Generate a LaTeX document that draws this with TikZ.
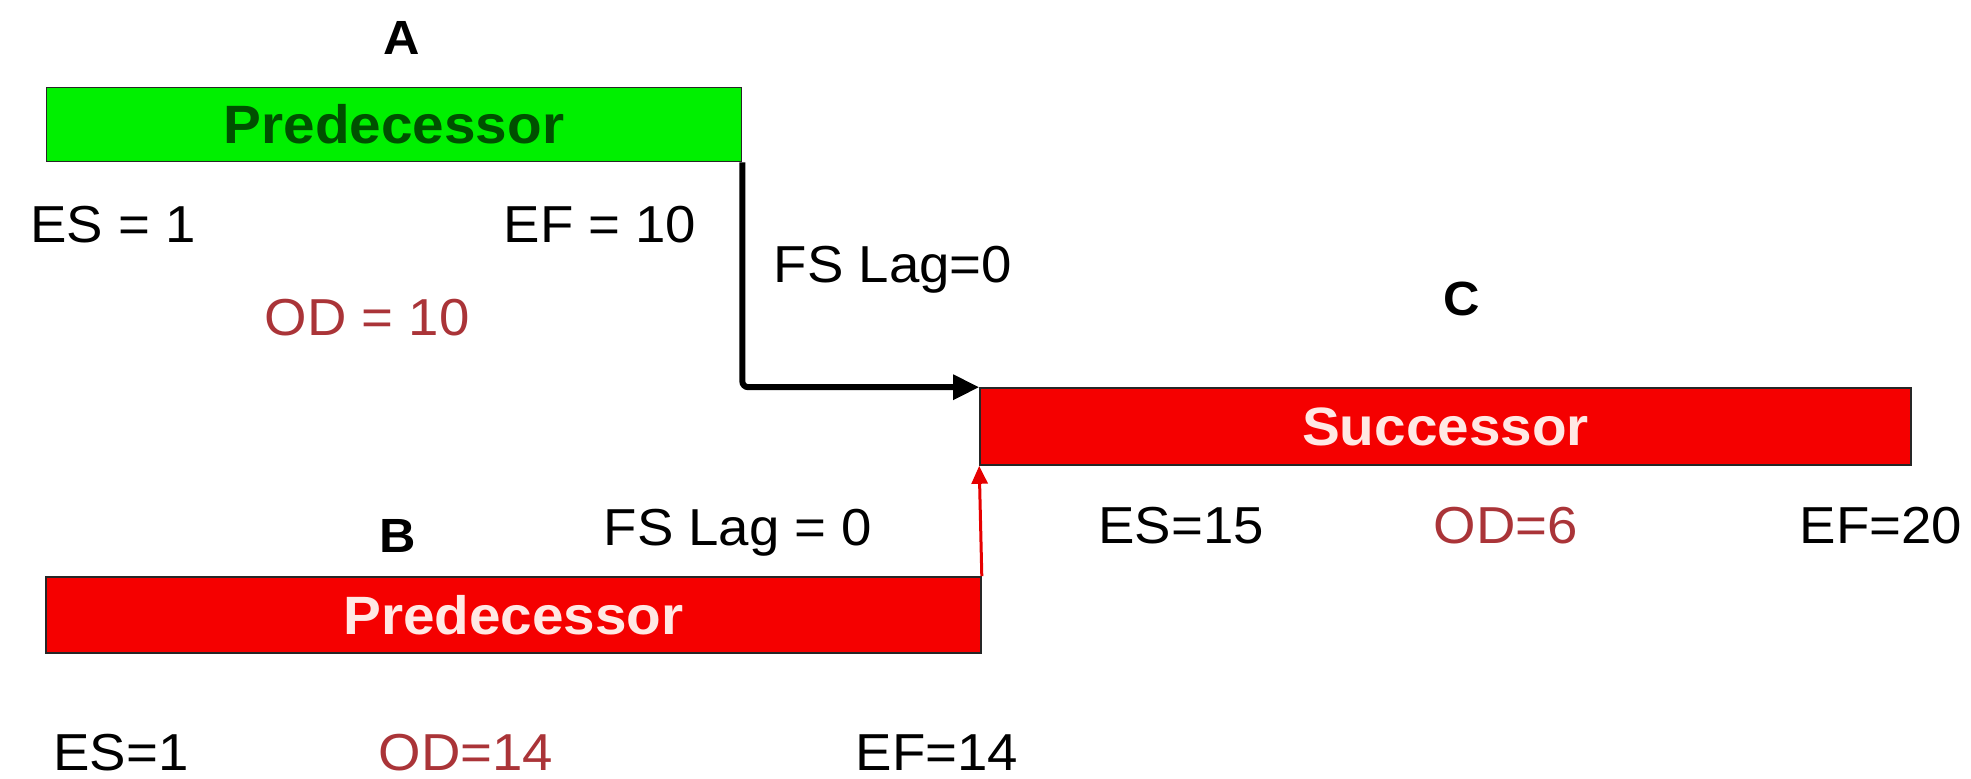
\documentclass[tikz,border=0pt]{standalone}
\usepackage{fontspec}
\setmainfont{Liberation Sans}[FakeStretch=1.05]
\usetikzlibrary{arrows.meta}

\definecolor{barGreen}{RGB}{0,240,0}
\definecolor{barGreenText}{RGB}{0,80,0}
\definecolor{barRed}{RGB}{245,0,0}
\definecolor{barRedText}{RGB}{255,232,228}
\definecolor{odRed}{RGB}{170,52,56}
\definecolor{linkRed}{RGB}{230,0,0}

\tikzset{
  val/.style={anchor=base, inner sep=0pt, font=\fontsize{26}{30}\selectfont},
  odval/.style={val, text=odRed},
  tag/.style={anchor=base, inner sep=0pt, font=\fontsize{24}{28}\selectfont\bfseries},
  bar/.style={draw=black!85, line width=0.8pt, inner sep=0pt,
              font=\fontsize{27}{30}\selectfont\bfseries},
  greenbar/.style={bar, fill=barGreen, text=barGreenText},
  redbar/.style={bar, fill=barRed, text=barRedText},
}

\begin{document}
\begin{tikzpicture}[x=0.5pt, y=-0.5pt]
  \useasboundingbox (0,0) rectangle (1971,778);

  % activity A
  \node[tag] (labA) at (402,54) {A};
  \node[greenbar, minimum width=347.5pt, minimum height=37pt] (boxA) at (394,124.5) {Predecessor};
  \node[val] (esA) at (113,242) {ES = 1};
  \node[val] (efA) at (600,242) {EF = 10};
  \node[odval] (odA) at (367,335) {OD = 10};

  % activity C
  \node[tag] (labC) at (1462,315) {C};
  \node[redbar, minimum width=465.5pt, minimum height=38.5pt] (boxC) at (1445.5,426.5) {Successor};
  \node[val] (esC) at (1181,543) {ES=15};
  \node[odval] (odC) at (1506,543) {OD=6};
  \node[val] (efC) at (1881,543) {EF=20};

  % activity B
  \node[tag] (labB) at (398,552) {B};
  \node[redbar, minimum width=467.5pt, minimum height=38pt] (boxB) at (513.5,615) {Predecessor};
  \node[val] (esB) at (121,770) {ES=1};
  \node[odval] (odB) at (466,770) {OD=14};
  \node[val] (efB) at (937,770) {EF=14};

  % finish-to-start links
  \node[val] (lagAC) at (893,282) {FS Lag=0};
  \node[val] (lagBC) at (738,545) {FS Lag = 0};

  \draw[line width=3pt, rounded corners=3pt, -{Triangle[length=13pt,width=12pt]}]
    (boxA.south east) |- (boxC.north west);
  \draw[linkRed, line width=1.5pt, -{Triangle[length=9pt,width=8pt]}]
    (boxB.north east) -- (boxC.south west);
\end{tikzpicture}
\end{document}
